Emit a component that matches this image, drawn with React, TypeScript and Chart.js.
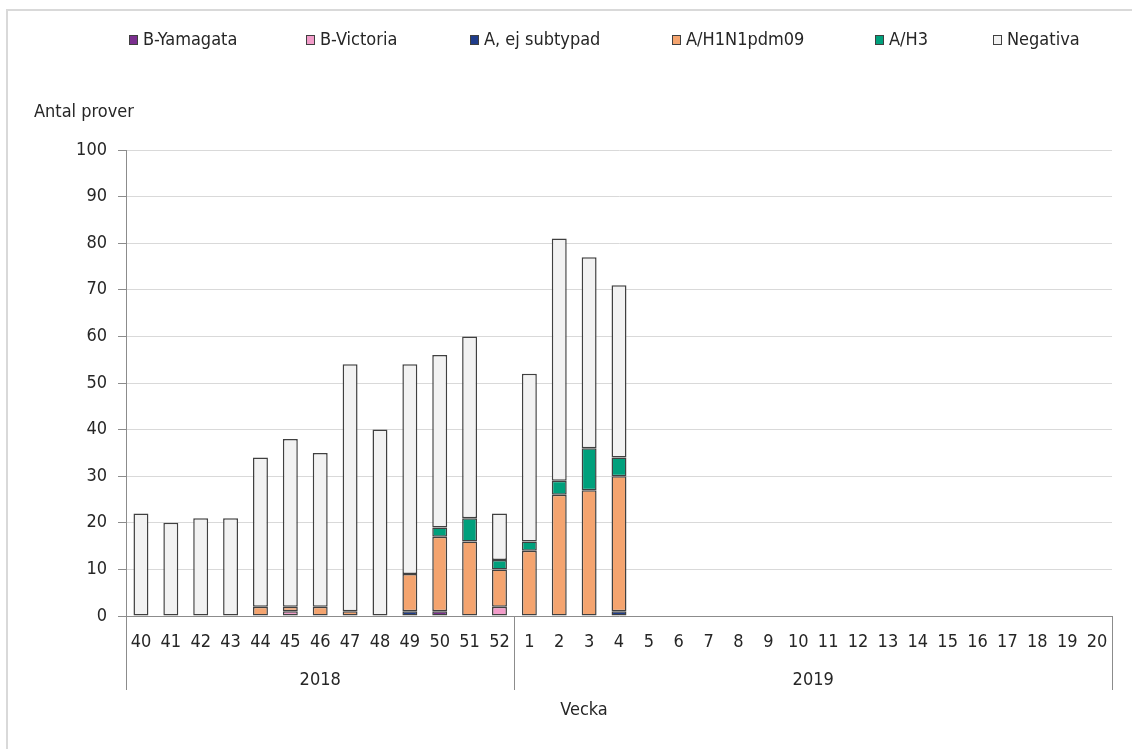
import React, { useEffect, useRef } from "react";
import { Chart, registerables } from "chart.js";

Chart.register(...registerables);

const weeks: string[] = [
  "40", "41", "42", "43", "44", "45", "46", "47", "48", "49", "50", "51", "52",
  "1", "2", "3", "4", "5", "6", "7", "8", "9", "10", "11", "12", "13", "14", "15", "16", "17", "18", "19", "20",
];
const yearGroups = [
  { label: "2018", count: 13 },
  { label: "2019", count: 20 },
];

const bYamagata: number[] = [0, 0, 0, 0, 0, 0, 0, 0, 0, 0, 1, 0, 0, 0, 0, 0, 0];
const bVictoria: number[] = [0, 0, 0, 0, 0, 1, 0, 0, 0, 0, 0, 0, 2, 0, 0, 0, 0];
const aEjSubtypad: number[] = [0, 0, 0, 0, 0, 0, 0, 0, 0, 1, 0, 0, 0, 0, 0, 0, 1];
const h1n1: number[] = [0, 0, 0, 0, 2, 1, 2, 1, 0, 8, 16, 16, 8, 14, 26, 27, 29];
const h3: number[] = [0, 0, 0, 0, 0, 0, 0, 0, 0, 0, 2, 5, 2, 2, 3, 9, 4];
const negativa: number[] = [22, 20, 21, 21, 32, 36, 33, 53, 40, 45, 37, 39, 10, 36, 52, 41, 37];

const yTicks = { min: 0, max: 100, step: 10 };

// zero values become null so no empty segment outline is drawn
const pad = (arr: number[]) =>
  weeks.map((_, i) => (i < arr.length && arr[i] !== 0 ? arr[i] : null));

const FONT = "'DejaVu Sans Condensed', 'DejaVu Sans', Verdana, sans-serif";
const TEXT = "#262626";
const FS = 18;

const decorPlugin = {
  id: "decor",
  beforeDraw(chart: any) {
    const { ctx } = chart;
    ctx.save();
    ctx.fillStyle = "#ffffff";
    ctx.fillRect(0, 0, chart.width, chart.height);
    ctx.strokeStyle = "#d9d9d9";
    ctx.lineWidth = 2;
    ctx.beginPath();
    ctx.moveTo(7, chart.height + 5);
    ctx.lineTo(7, 10);
    ctx.lineTo(chart.width + 5, 10);
    ctx.stroke();
    ctx.restore();
  },
  afterDraw(chart: any) {
    const { ctx, chartArea } = chart;
    const x = chart.scales.x;
    ctx.save();
    ctx.font = `${FS}px ${FONT}`;
    ctx.fillStyle = TEXT;
    ctx.textBaseline = "middle";
    ctx.textAlign = "left";
    ctx.fillText("Antal prover", 34, 112);

    // legend
    const legendX = [129, 306, 470, 672, 875, 993];
    chart.data.datasets.forEach((ds: any, i: number) => {
      const lx = legendX[i];
      ctx.fillStyle = ds.backgroundColor;
      ctx.fillRect(lx, 35, 9, 10);
      ctx.strokeStyle = "#404040";
      ctx.lineWidth = 1;
      ctx.strokeRect(lx + 0.5, 35.5, 8, 9);
      ctx.fillStyle = TEXT;
      ctx.font = `${FS}px ${FONT}`;
      ctx.textAlign = "left";
      ctx.fillText(ds.label, lx + 14, 40);
    });

    // year groups
    const bottom = chartArea.bottom;
    let idx = 0;
    const bounds: number[] = [chartArea.left];
    yearGroups.forEach((g) => {
      idx += g.count;
      if (idx >= weeks.length) bounds.push(chartArea.right);
      else bounds.push((x.getPixelForValue(idx - 1) + x.getPixelForValue(idx)) / 2);
    });
    ctx.strokeStyle = "#8c8c8c";
    ctx.lineWidth = 1;
    bounds.forEach((bx) => {
      const px = Math.round(bx) + 0.5;
      ctx.beginPath();
      ctx.moveTo(px, bottom);
      ctx.lineTo(px, bottom + 74);
      ctx.stroke();
    });
    ctx.fillStyle = TEXT;
    ctx.font = `${FS}px ${FONT}`;
    ctx.textAlign = "center";
    yearGroups.forEach((g, i) => {
      ctx.fillText(g.label, (bounds[i] + bounds[i + 1]) / 2, bottom + 64);
    });
    ctx.fillText("Vecka", 584, 710);
    ctx.restore();
  },
};

export default function App() {
  const ref = useRef<HTMLCanvasElement | null>(null);

  useEffect(() => {
    document.body.style.margin = "0";
    if (!ref.current) return;
    const common = {
      borderColor: "#404040",
      borderWidth: 1.5,
      borderSkipped: false,
      barPercentage: 0.5,
      categoryPercentage: 1.0,
    };
    const chart = new Chart(ref.current, {
      type: "bar",
      data: {
        labels: weeks,
        datasets: [
          { label: "B-Yamagata", data: pad(bYamagata), backgroundColor: "#7B2F8F", ...common },
          { label: "B-Victoria", data: pad(bVictoria), backgroundColor: "#F29CC9", ...common },
          { label: "A, ej subtypad", data: pad(aEjSubtypad), backgroundColor: "#1F3C8A", ...common },
          { label: "A/H1N1pdm09", data: pad(h1n1), backgroundColor: "#F4A46F", ...common },
          { label: "A/H3", data: pad(h3), backgroundColor: "#00A07C", ...common },
          { label: "Negativa", data: pad(negativa), backgroundColor: "#F2F2F2", ...common },
        ] as any,
      },
      options: {
        animation: false,
        responsive: false,
        layout: { padding: { top: 150, right: 20, left: 0, bottom: 0 } },
        plugins: {
          legend: { display: false },
          tooltip: { enabled: false },
        },
        scales: {
          x: {
            stacked: true,
            grid: { display: false },
            border: { display: true, color: "#8c8c8c", width: 1 },
            ticks: {
              color: TEXT,
              font: { family: FONT, size: FS },
              padding: 8,
              maxRotation: 0,
              autoSkip: false,
            },
            afterFit: (s: any) => {
              s.height = 133;
            },
          },
          y: {
            stacked: true,
            min: yTicks.min,
            max: yTicks.max,
            grid: {
              color: "#d9d9d9",
              tickColor: "#8c8c8c",
              tickLength: 8,
              lineWidth: 1,
            },
            border: { display: true, color: "#8c8c8c", width: 1 },
            ticks: {
              stepSize: yTicks.step,
              color: TEXT,
              font: { family: FONT, size: FS },
              padding: 11,
            },
            afterFit: (s: any) => {
              s.width = 126;
            },
          },
        },
      } as any,
      plugins: [decorPlugin],
    });
    return () => chart.destroy();
  }, []);

  return <canvas ref={ref} width={1132} height={749} style={{ display: "block" }} />;
}
